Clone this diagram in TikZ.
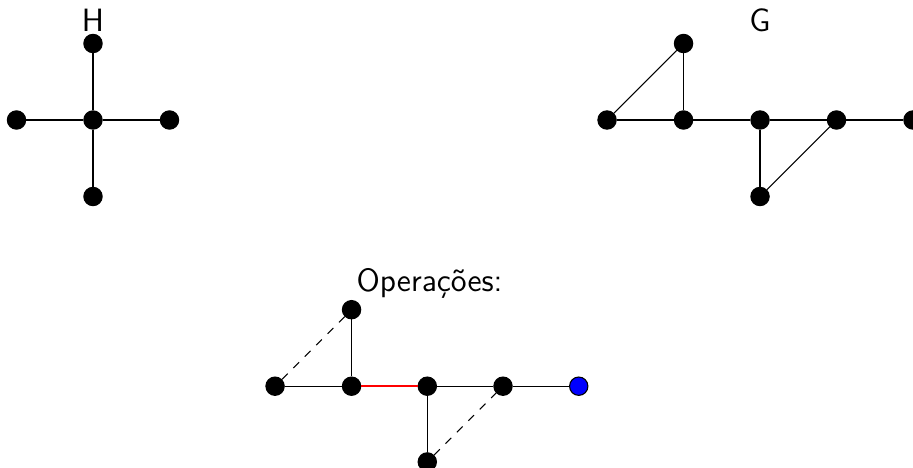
\documentclass[tikz,border=0pt]{standalone}
\usepackage{tikz}
\usetikzlibrary{positioning}

\begin{document}
\begin{tikzpicture}[
    vertex/.style={circle, draw, fill=black, inner sep=0pt, minimum size=0.24cm},
    endvertex/.style={circle, draw=black, fill=blue, inner sep=0pt, minimum size=0.24cm},
    edge/.style={thin},
    removed/.style={thin, dashed},
    contracted/.style={thick, red},
    title/.style={font=\sffamily\large}
]
\useasboundingbox (-1.216,-4.549) rectangle (10.72,1.569);

% Graph H
\node[vertex] (h0) at (0,0) {};
\node[vertex] (hl) at (-1,0) {};
\node[vertex] (hr) at (1,0) {};
\node[vertex] (ht) at (0,1) {};
\node[vertex] (hb) at (0,-1) {};

% Graph G
\node[vertex] (g1) at (6.72,0) {};
\node[vertex] (g2) at (7.72,0) {};
\node[vertex] (g3) at (8.72,0) {};
\node[vertex] (g4) at (9.72,0) {};
\node[vertex] (g5) at (10.72,0) {};
\node[vertex] (gt) at (7.72,1) {};
\node[vertex] (gb) at (8.72,-1) {};

% Operations
\node[vertex] (o1) at (2.38,-3.48) {};
\node[vertex] (o2) at (3.38,-3.48) {};
\node[vertex] (o3) at (4.37,-3.48) {};
\node[vertex] (o4) at (5.36,-3.48) {};
\node[endvertex] (o5) at (6.35,-3.48) {};
\node[vertex] (ot) at (3.38,-2.48) {};
\node[vertex] (ob) at (4.37,-4.47) {};

% H edges
\draw[edge] (h0) -- (hl);
\draw[edge] (h0) -- (hr);
\draw[edge] (h0) -- (ht);
\draw[edge] (h0) -- (hb);

% G edges
\draw[edge] (g1) -- (g2);
\draw[edge] (g1) -- (gt);
\draw[edge] (gt) -- (g2);
\draw[edge] (g2) -- (g3);
\draw[edge] (g3) -- (g4);
\draw[edge] (g4) -- (g5);
\draw[edge] (g3) -- (gb);
\draw[edge] (gb) -- (g4);

% Operation edges
\draw[edge] (o1) -- (o2);
\draw[removed] (o1) -- (ot);
\draw[edge] (ot) -- (o2);
\draw[contracted] (o2) -- (o3);
\draw[edge] (o3) -- (o4);
\draw[edge] (o4) -- (o5);
\draw[edge] (o3) -- (ob);
\draw[removed] (ob) -- (o4);

% Labels
\node[title] (hlabel) at (0,1.3) {H};
\node[title] (glabel) at (8.72,1.3) {G};
\node[title] (oplabel) at (4.4,-2.14) {Operações:};

\end{tikzpicture}
\end{document}
